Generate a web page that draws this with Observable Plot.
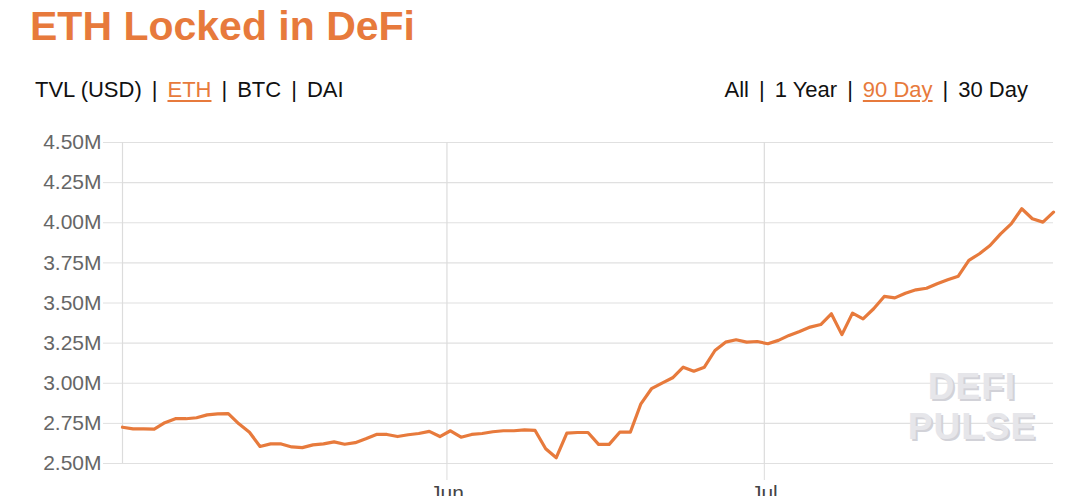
<!DOCTYPE html>
<html>
<head>
<meta charset="utf-8">
<script src="https://cdn.jsdelivr.net/npm/d3@7"></script>
<script src="https://cdn.jsdelivr.net/npm/@observablehq/plot@0.6"></script>
<style>
  html, body { margin: 0; padding: 0; background: #fff; }
  body { width: 1080px; height: 496px; overflow: hidden; position: relative; font-family: "Liberation Sans", Arial, Helvetica, sans-serif; }
  #title { position: absolute; left: 30px; top: 6px; font-size: 41px; line-height: 41px; font-weight: bold; color: #E77A3C; white-space: nowrap; }
  .ctrl { position: absolute; top: 79px; font-size: 22px; line-height: 22px; color: #111; white-space: nowrap; }
  .ctrl .sep { margin: 0 10px; }
  .ctrl .on { color: #E77A3C; text-decoration: underline; text-decoration-color: #E77A3C; text-underline-offset: 3px; }
  #left { left: 35px; }
  #right { right: 52px; }
  #chart { position: absolute; left: 0; top: 115px; }
  #wm { position: absolute; left: 872px; top: 367px; width: 200px; text-align: center; font-size: 37px; line-height: 40px; font-weight: bold; color: #e6e6ea; letter-spacing: 1px; text-shadow: 2px 2px 0 #d2d2d8; }
</style>
</head>
<body>
<div id="title">ETH Locked in DeFi</div>
<div class="ctrl" id="left"></div>
<div class="ctrl" id="right"></div>
<div id="chart"></div>
<div id="wm">DEFI<br>PULSE</div>
<script>
// ---- data ----
const startDate = "2020-05-01T08:00:00Z";
const ethLockedM = [
  2.726, 2.716, 2.716, 2.714, 2.754, 2.779, 2.779, 2.785, 2.803, 2.809,
  2.811, 2.747, 2.695, 2.606, 2.622, 2.622, 2.603, 2.599, 2.616, 2.622,
  2.635, 2.620, 2.630, 2.654, 2.681, 2.681, 2.668, 2.679, 2.687, 2.700,
  2.668, 2.704, 2.664, 2.681, 2.687, 2.698, 2.704, 2.704, 2.710, 2.706,
  2.592, 2.536, 2.689, 2.693, 2.693, 2.619, 2.619, 2.695, 2.695, 2.872,
  2.966, 3.001, 3.034, 3.100, 3.075, 3.100, 3.204, 3.256, 3.271, 3.256,
  3.260, 3.246, 3.267, 3.298, 3.323, 3.350, 3.366, 3.433, 3.303, 3.437,
  3.401, 3.464, 3.541, 3.532, 3.561, 3.582, 3.592, 3.620, 3.645, 3.667,
  3.765, 3.807, 3.858, 3.931, 3.993, 4.087, 4.025, 4.004, 4.066
];
const yTicks = [2.5, 2.75, 3.0, 3.25, 3.5, 3.75, 4.0, 4.25, 4.5];
const xTickDates = ["2020-06-01", "2020-07-01"];
const xTickLabels = ["Jun", "Jul"];
const leftControls = ["TVL (USD)", "ETH", "BTC", "DAI"];
const leftActive = "ETH";
const rightControls = ["All", "1 Year", "90 Day", "30 Day"];
const rightActive = "90 Day";

// ---- controls ----
function fillCtrl(id, items, active) {
  const el = document.getElementById(id);
  el.innerHTML = items.map(s => `<span class="${s === active ? "on" : ""}">${s}</span>`).join('<span class="sep">|</span>');
}
fillCtrl("left", leftControls, leftActive);
fillCtrl("right", rightControls, rightActive);

// ---- table ----
const t0 = new Date(startDate);
const data = ethLockedM.map((v, i) => ({ date: d3.utcDay.offset(t0, i), value: v }));
const xTicks = xTickDates.map(s => new Date(s + "T00:00:00Z"));
const labelOf = new Map(xTicks.map((d, i) => [+d, xTickLabels[i]]));

const chart = Plot.plot({
  width: 1080,
  height: 388,
  marginTop: 27,
  marginBottom: 40,
  marginLeft: 122,
  marginRight: 27,
  style: { fontFamily: '"Liberation Sans", Arial, Helvetica, sans-serif', fontSize: "21px", color: "#666", background: "transparent" },
  x: { type: "utc", domain: [data[0].date, data[data.length - 1].date], label: null },
  y: { domain: [2.5, 4.5], label: null },
  marks: [
    Plot.gridY(yTicks, { stroke: "#e0e0e0", strokeOpacity: 1, strokeWidth: 1.2 }),
    Plot.gridX(xTicks, { stroke: "#dcdcdc", strokeOpacity: 1, strokeWidth: 1.2 }),
    Plot.axisY(yTicks, { tickSize: 19, tickPadding: 2, stroke: "#e0e0e0", fill: "#666", label: null, tickFormat: d => d.toFixed(2) + "M" }),
    Plot.axisX(xTicks, { tickSize: 17, tickPadding: 5, stroke: "#dcdcdc", fill: "#444", label: null, tickFormat: d => labelOf.get(+d) }),
    Plot.ruleX([data[0].date], { stroke: "#dcdcdc", strokeWidth: 1.2 }),
    Plot.line(data, { x: "date", y: "value", stroke: "#E77A3C", strokeWidth: 3.2, strokeLinejoin: "round", strokeLinecap: "round" })
  ]
});
document.getElementById("chart").appendChild(chart);
</script>
</body>
</html>
